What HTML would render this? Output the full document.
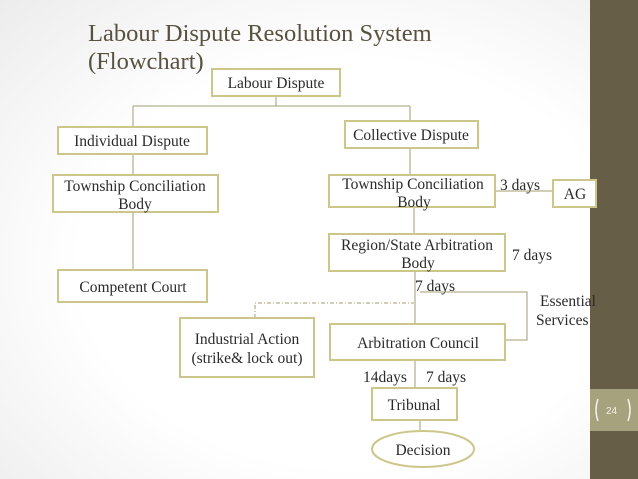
<!DOCTYPE html>
<html><head><meta charset="utf-8"><style>
body{margin:0;width:638px;height:479px;overflow:hidden;background:radial-gradient(ellipse at 55% 55%,#fff 55%,#ececec 100%);}
svg{position:absolute;left:0;top:0}
text{font-family:"Liberation Serif",serif;font-size:15.5px;fill:#2a2a2a}
.b{fill:#fff;stroke:#cdc68a;stroke-width:2}
.l{stroke:#a39d72;stroke-width:1;fill:none}
</style></head><body>
<svg width="638" height="479" viewBox="0 0 638 479">
<rect x="590" y="0" width="48" height="479" fill="#675e48"/>
<rect x="590" y="389" width="48" height="42" fill="#a7a27e"/>
<text x="606" y="414" style="font-family:'Liberation Sans',sans-serif;font-size:10px;fill:#f4f1e6">24</text>
<path d="M598 399 q-4 11 0 22 M628 399 q4 11 0 22" stroke="#f4f1e6" stroke-width="1.5" fill="none"/>
<text x="88" y="41" style="font-size:24.5px;fill:#5a5240">Labour Dispute Resolution System</text>
<text x="88" y="69" style="font-size:24.5px;fill:#5a5240">(Flowchart)</text>
<path class="l" d="M276 96V106M133 106H410M133 106V127M410 106V121M410 148V174M133 154V175M133 212V270M495 191H552M414 207V233M415 271V323M420 292H527V340H505M415 360V388M420 420V430"/>
<path d="M255 318V303H414" stroke="#a39d72" stroke-width="1" stroke-dasharray="4,2,1,2" fill="none"/>
<rect class="b" x="212" y="69" width="128" height="27"/>
<text x="276" y="88" text-anchor="middle">Labour Dispute</text>
<rect class="b" x="58" y="127" width="149" height="27"/>
<text x="132" y="146" text-anchor="middle">Individual Dispute</text>
<rect class="b" x="53" y="175" width="165" height="37"/>
<text x="135" y="191" text-anchor="middle">Township Conciliation</text>
<text x="135" y="209" text-anchor="middle">Body</text>
<rect class="b" x="58" y="270" width="149" height="32"/>
<text x="133" y="292" text-anchor="middle">Competent Court</text>
<rect class="b" x="345" y="121" width="133" height="27"/>
<text x="411" y="140" text-anchor="middle">Collective Dispute</text>
<rect class="b" x="329" y="175" width="166" height="32"/>
<text x="413" y="189" text-anchor="middle">Township Conciliation</text>
<text x="414" y="207" text-anchor="middle">Body</text>
<text x="500" y="190">3 days</text>
<rect class="b" x="553" y="180" width="43" height="27"/>
<text x="575" y="199" text-anchor="middle">AG</text>
<rect class="b" x="329" y="234" width="176" height="37"/>
<text x="417" y="250" text-anchor="middle">Region/State Arbitration</text>
<text x="418" y="268" text-anchor="middle">Body</text>
<text x="512" y="260">7 days</text>
<text x="415" y="291">7 days</text>
<text x="540" y="306">Essential</text>
<text x="536" y="325">Services</text>
<rect class="b" x="180" y="318" width="134" height="59"/>
<text x="247" y="344" text-anchor="middle">Industrial Action</text>
<text x="247" y="363" text-anchor="middle">(strike&amp; lock out)</text>
<rect class="b" x="330" y="324" width="175" height="36"/>
<text x="418" y="348" text-anchor="middle">Arbitration Council</text>
<text x="363" y="382">14days</text>
<text x="426" y="382">7 days</text>
<rect class="b" x="372" y="388" width="85" height="32"/>
<text x="414" y="410" text-anchor="middle">Tribunal</text>
<ellipse class="b" cx="423" cy="449" rx="51" ry="18"/>
<text x="423" y="455" text-anchor="middle">Decision</text>
</svg>
</body></html>
